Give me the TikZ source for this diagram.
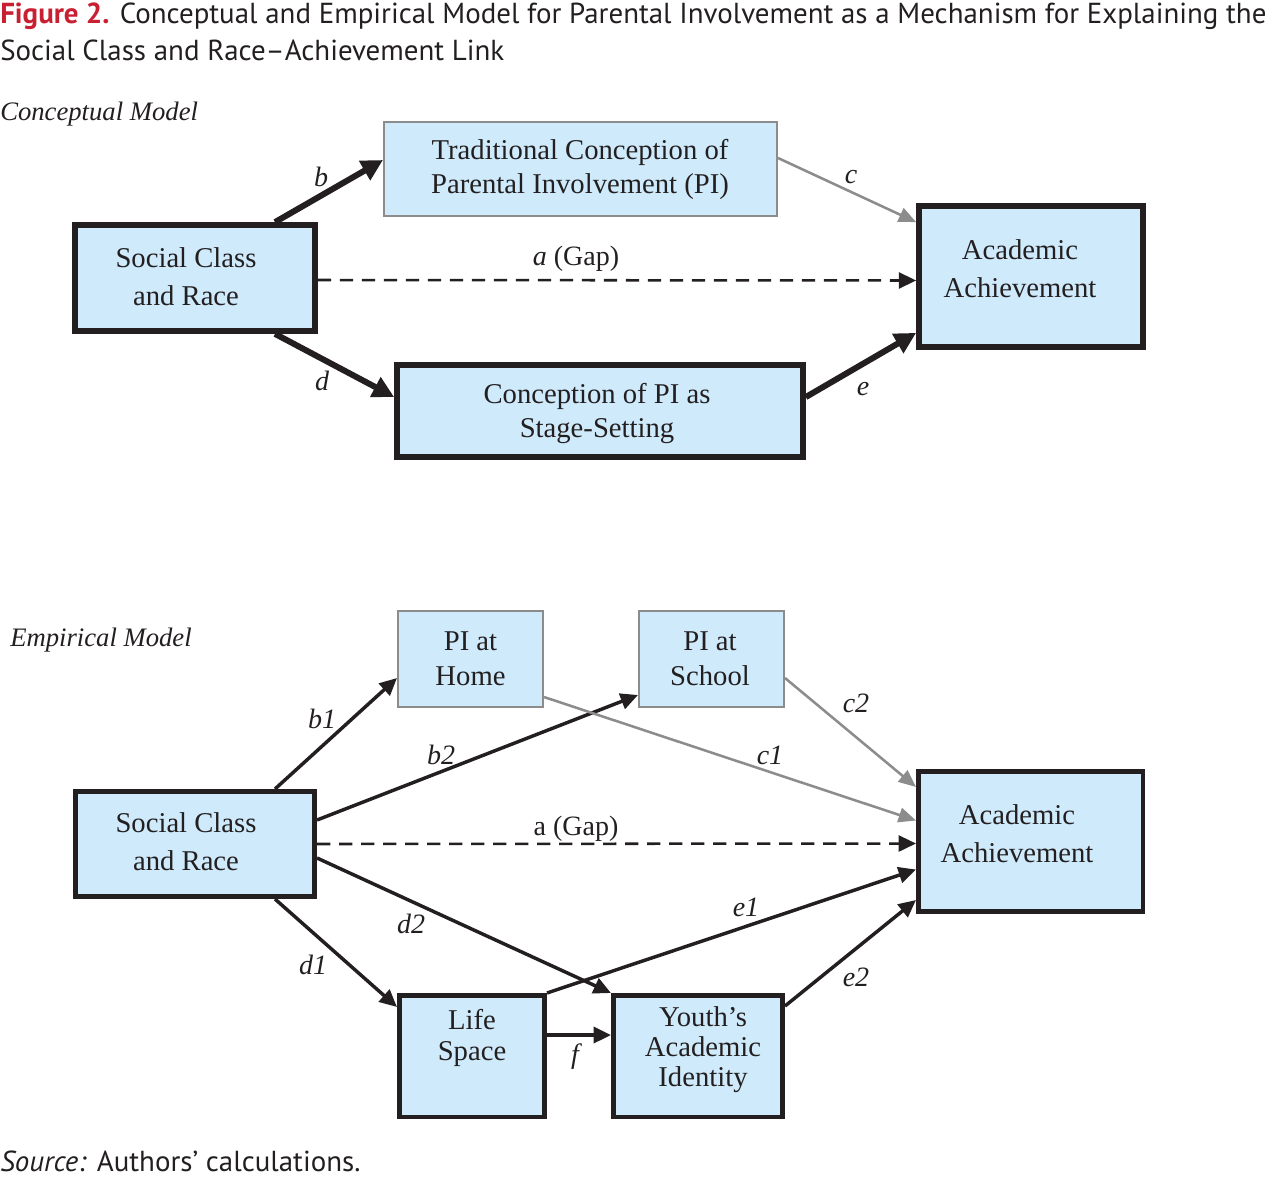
\documentclass[tikz,border=0pt]{standalone}
\usepackage{fontspec}
\setmainfont{Liberation Serif}
\newfontfamily\titlefont{PT Sans}
\usetikzlibrary{arrows.meta,calc}
\definecolor{boxfill}{RGB}{206,234,251}
\definecolor{ink}{RGB}{35,31,32}
\definecolor{grayline}{RGB}{140,140,140}
\definecolor{figred}{RGB}{200,32,50}
\begin{document}
\begin{tikzpicture}[x=0.75pt,y=-0.75pt,
  bsize/.style 2 args={minimum width=#1*0.75pt, minimum height=#2*0.75pt},
  thickbox/.style={draw=ink, fill=boxfill, line width=4.3pt, inner sep=0pt},
  medbox/.style={draw=ink, fill=boxfill, line width=3.4pt, inner sep=0pt},
  graybox/.style={draw=grayline, fill=boxfill, line width=1.5pt, inner sep=0pt},
  btext/.style={align=center, inner sep=0pt, text=ink, font=\fontsize{21.5}{#1}\selectfont},
  btext/.default=28.5,
  lbl/.style={inner sep=0pt, text=ink, font=\fontsize{21}{24}\selectfont\itshape},
  heading/.style={inner sep=0pt, anchor=west, text=ink, font=\fontsize{20}{24}\selectfont\itshape},
  sanstext/.style={anchor=base west, inner sep=0pt, text=ink, font=\titlefont\fontsize{21.7}{26}\selectfont},
  thickarrow/.style={draw=ink, line width=4.5pt, -{Triangle[length=16pt,width=16pt]}},
  medarrow/.style={draw=ink, line width=2.6pt, -{Triangle[length=13pt,width=12pt]}},
  grayarrow/.style={draw=grayline, line width=1.9pt, -{Triangle[length=13pt,width=11pt]}},
  gaparrow/.style={draw=ink, line width=1.9pt, dash pattern=on 10pt off 6.5pt, -{Triangle[length=13pt,width=12pt]}},
]
\useasboundingbox (0,0) rectangle (1280,1178);

% Title
\node[sanstext] (title1) at (0,23)
  {\textcolor{figred}{\bfseries Figure 2.} Conceptual and Empirical Model for Parental Involvement as a Mechanism for Explaining the};
\node[sanstext] (title2) at (0,60)
  {Social Class and Race–Achievement Link};

% ---------- Conceptual model ----------
\node[heading] (hconc) at (0,114) {Conceptual Model};

\node[thickbox, bsize={240}{106}] (sc1) at (195,278) {};
\node[btext] (sc1t) at (186,277) {Social Class\\and Race};

\node[graybox, bsize={393}{94}] (tp) at (580.5,169) {};
\node[btext=25.5] (tpt) at (580,169) {Traditional Conception of\\Parental Involvement (PI)};

\node[thickbox, bsize={224}{141}] (aa1) at (1031,276.5) {};
\node[btext] (aa1t) at (1020,269) {Academic\\Achievement};

\node[thickbox, bsize={406}{92}] (cs) at (600,411) {};
\node[btext=25.5] (cst) at (597,413) {Conception of PI as\\Stage-Setting};

\draw[thickarrow] ($(sc1.north)+(80,0)$) -- ($(tp.west)+(0,-9)$);
\draw[grayarrow] ($(tp.east)+(0,-11)$) -- ($(aa1.north west)+(0,19)$);
\draw[gaparrow] ($(sc1.east)+(0,2)$) -- ($(aa1.west)+(0,4)$);
\draw[thickarrow] ($(sc1.south)+(80,0)$) -- ($(cs.west)+(0,-14)$);
\draw[thickarrow] ($(cs.east)+(0,-14)$) -- ($(aa1.south west)+(0,-17)$);

\node[lbl] (lb) at (321,177) {b};
\node[lbl] (lc) at (851,177) {c};
\node[lbl] (ld) at (322,381) {d};
\node[lbl] (le) at (863,389) {e};
\node[lbl, font=\fontsize{21}{24}\selectfont] (la1) at (576,259) {\textit{a} (Gap)};

% ---------- Empirical model ----------
\node[heading] (hemp) at (10,640) {Empirical Model};

\node[medbox, bsize={239.5}{105.5}] (sc2) at (195,844) {};
\node[btext] (sc2t) at (186,842) {Social Class\\and Race};

\node[graybox, bsize={145}{96}] (ph) at (470.5,659) {};
\node[btext=26.25] (pht) at (470.5,658.5) {PI at\\Home};

\node[graybox, bsize={145}{96}] (ps) at (711.5,659) {};
\node[btext=26.25] (pst) at (710,658.5) {PI at\\School};

\node[medbox, bsize={224.5}{140.5}] (aa2) at (1030.5,841.5) {};
\node[btext] (aa2t) at (1017,834) {Academic\\Achievement};

\node[medbox, bsize={145.5}{121.5}] (ls) at (472,1056) {};
\node[btext=23.3] (lst) at (472,1037.5) {Life\\Space};

\node[medbox, bsize={169.5}{121.5}] (ya) at (698,1056) {};
\node[btext=22.5] (yat) at (703,1050) {Youth’s\\Academic\\Identity};

\draw[medarrow] ($(sc2.north)+(80,0)$) -- ($(ph.west)+(0,19)$);
\draw[medarrow] ($(sc2.east)+(0,-24)$) -- ($(ps.west)+(0,36)$);
\draw[grayarrow] ($(ph.east)+(0,38)$) -- ($(aa2.west)+(0,-21)$);
\draw[grayarrow] ($(ps.east)+(0,19)$) -- ($(aa2.north west)+(0,18)$);
\draw[gaparrow] (sc2.east) -- ($(aa2.west)+(0,2)$);
\draw[medarrow] ($(sc2.south)+(80,0)$) -- ($(ls.north west)+(0,14)$);
\draw[medarrow] ($(sc2.east)+(0,14)$) -- (ya.north west);
\draw[medarrow] (ls.north east) -- ($(aa2.west)+(0,28)$);
\draw[medarrow] ($(ya.north east)+(0,13)$) -- ($(aa2.south west)+(0,-14)$);
\draw[medarrow] ($(ls.east)+(0,-21)$) -- ($(ya.west)+(0,-21)$);

\node[lbl] (lb1) at (322,719) {b1};
\node[lbl] (lb2) at (441,755) {b2};
\node[lbl] (lc1) at (770,755) {c1};
\node[lbl] (lc2) at (856,703) {c2};
\node[lbl, font=\fontsize{21}{24}\selectfont] (la2) at (576,829) {a (Gap)};
\node[lbl] (ld1) at (313,965) {d1};
\node[lbl] (ld2) at (411,924) {d2};
\node[lbl] (le1) at (746,907) {e1};
\node[lbl] (le2) at (856,977) {e2};
\node[lbl] (lf) at (575,1057) {f};

% Source
\node[sanstext] (src) at (0,1171)
  {\textit{Source:} Authors’ calculations.};
\end{tikzpicture}
\end{document}
